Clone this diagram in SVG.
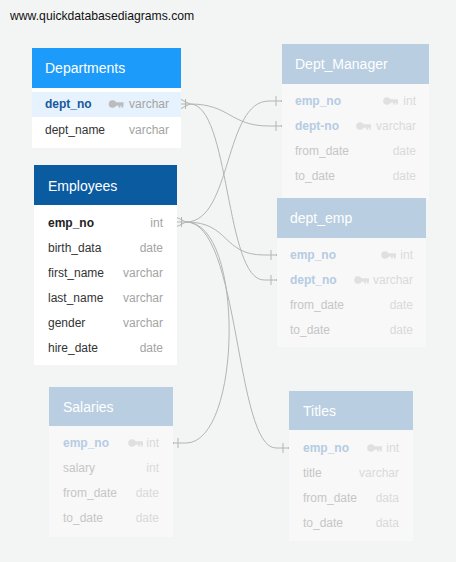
<svg xmlns="http://www.w3.org/2000/svg" width="456" height="562" viewBox="0 0 456 562">
  <style>
    text { font-family: "Liberation Sans", Arial, sans-serif; }
    .site { font-size: 12.2px; fill: #111; }
    .hdr { font-size: 14px; fill: #ffffff; }
    .f { font-size: 12px; }
    .t { font-size: 12px; text-anchor: end; }
    .pk { font-weight: bold; }
    .link { fill: none; stroke: #b4b4b4; stroke-width: 1; }
    .mark { fill: none; stroke: #b4b4b4; stroke-width: 1; }
    .dot { fill: #b4b4b4; }
    /* active tables */
    .on .body { fill: #ffffff; }
    .on .f { fill: #333333; }
    .on .t { fill: #a4a4a4; }
    .on .key { fill: #bcbcbc; }
    /* muted tables */
    .off .hd { fill: #b9cee1; }
    .off .body { fill: #f8f8f8; }
    .off .f { fill: #c6c6c6; }
    .off .f.pk { fill: #b5cce3; }
    .off .t { fill: #dadada; }
    .off .key { fill: #e0e0e0; }
  </style>
  <defs>
    <!-- small primary-key glyph, origin at its left-middle -->
    <g id="key">
      <circle cx="4" cy="0" r="3.8"/>
      <rect x="6" y="-1.7" width="9" height="3.4"/>
      <rect x="10.2" y="1" width="1.7" height="2.6"/>
      <rect x="13" y="1" width="1.7" height="2.6"/>
    </g>
  </defs>

  <rect width="456" height="562" fill="#f3f5f5"/>
  <text class="site" x="10" y="20">www.quickdatabasediagrams.com</text>

  <!-- connectors -->
  <g id="connectors">
    <!-- Departments.dept_no -> Dept_Manager.dept-no -->
    <path class="link" d="M190,104 C230,104 230,126 269,126"/>
    <!-- Departments.dept_no -> dept_emp.dept_no -->
    <path class="link" d="M190,104 C230,104 225,280 264,280"/>
    <!-- Employees.emp_no -> Dept_Manager.emp_no -->
    <path class="link" d="M186,222 C232,222 224,101 269,101"/>
    <!-- Employees.emp_no -> dept_emp.emp_no -->
    <path class="link" d="M186,222 C230,222 222,255 264,255"/>
    <!-- Employees.emp_no -> Titles.emp_no -->
    <path class="link" d="M186,222 C240,222 235,448 276,448"/>
    <!-- Employees.emp_no -> Salaries.emp_no -->
    <path class="link" d="M186,443 C242,443 245,222 186,222"/>

    <!-- many ends -->
    <path class="mark" d="M181,99.5 L190,104 M181,104 L190,104 M181,108.5 L190,104 M185.5,99 L185.5,109"/>
    <path class="mark" d="M177,217.5 L186,222 M177,222 L186,222 M177,226.5 L186,222 M181.5,217 L181.5,227"/>

    <!-- one ends -->
    <path class="mark" d="M269,101 L282,101 M276,96 L276,106"/>
    <circle class="dot" cx="282" cy="101" r="1"/>
    <path class="mark" d="M269,126 L282,126 M276,121 L276,131"/>
    <circle class="dot" cx="282" cy="126" r="1"/>
    <path class="mark" d="M264,255 L277,255 M271,250 L271,260"/>
    <circle class="dot" cx="277" cy="255" r="1"/>
    <path class="mark" d="M264,280 L277,280 M271,275 L271,285"/>
    <circle class="dot" cx="277" cy="280" r="1"/>
    <path class="mark" d="M173,443 L186,443 M178,438 L178,448"/>
    <circle class="dot" cx="173" cy="443" r="1"/>
    <path class="mark" d="M276,448 L289,448 M283,443 L283,453"/>
    <circle class="dot" cx="289" cy="448" r="1"/>
  </g>

  <!-- Departments -->
  <g id="departments" class="on">
    <rect class="body" x="32" y="88" width="149" height="60"/>
    <rect x="32" y="48" width="149" height="40" fill="#1d9bfb"/>
    <rect x="32" y="92" width="149" height="25" fill="#e6f2fd"/>
    <text class="hdr" x="45" y="73">Departments</text>
    <text class="f pk" x="45" y="108" style="fill:#17599b">dept_no</text>
    <use href="#key" class="key" x="108.5" y="104"/>
    <text class="t" x="169" y="108">varchar</text>
    <text class="f" x="45" y="134">dept_name</text>
    <text class="t" x="169" y="134">varchar</text>
  </g>

  <!-- Employees -->
  <g id="employees" class="on">
    <rect class="body" x="34" y="205" width="143" height="160"/>
    <rect x="34" y="165" width="143" height="40" fill="#0b5ba1"/>
    <text class="hdr" x="48" y="191">Employees</text>
    <text class="f pk" x="48" y="227" style="fill:#222">emp_no</text>
    <text class="t" x="163" y="227">int</text>
    <text class="f" x="48" y="252">birth_data</text>
    <text class="t" x="163" y="252">date</text>
    <text class="f" x="48" y="277">first_name</text>
    <text class="t" x="163" y="277">varchar</text>
    <text class="f" x="48" y="302">last_name</text>
    <text class="t" x="163" y="302">varchar</text>
    <text class="f" x="48" y="327">gender</text>
    <text class="t" x="163" y="327">varchar</text>
    <text class="f" x="48" y="352">hire_date</text>
    <text class="t" x="163" y="352">date</text>
  </g>

  <!-- Dept_Manager -->
  <g id="dept_manager" class="off">
    <rect class="body" x="282" y="84" width="147" height="116"/>
    <rect class="hd" x="282" y="44" width="147" height="40"/>
    <text class="hdr" x="295" y="69">Dept_Manager</text>
    <text class="f pk" x="295" y="105">emp_no</text>
    <use href="#key" class="key" x="383" y="101"/>
    <text class="t" x="416" y="105">int</text>
    <text class="f pk" x="295" y="130">dept-no</text>
    <use href="#key" class="key" x="356" y="126"/>
    <text class="t" x="416" y="130">varchar</text>
    <text class="f" x="295" y="155">from_date</text>
    <text class="t" x="416" y="155">date</text>
    <text class="f" x="295" y="180">to_date</text>
    <text class="t" x="416" y="180">date</text>
  </g>

  <!-- dept_emp -->
  <g id="dept_emp" class="off">
    <rect class="body" x="277" y="238" width="149" height="109"/>
    <rect class="hd" x="277" y="198" width="149" height="40"/>
    <text class="hdr" x="290" y="223">dept_emp</text>
    <text class="f pk" x="290" y="259">emp_no</text>
    <use href="#key" class="key" x="381" y="255"/>
    <text class="t" x="413" y="259">int</text>
    <text class="f pk" x="290" y="284">dept_no</text>
    <use href="#key" class="key" x="354" y="280"/>
    <text class="t" x="413" y="284">varchar</text>
    <text class="f" x="290" y="309">from_date</text>
    <text class="t" x="413" y="309">date</text>
    <text class="f" x="290" y="334">to_date</text>
    <text class="t" x="413" y="334">date</text>
  </g>

  <!-- Salaries -->
  <g id="salaries" class="off">
    <rect class="body" x="49" y="426" width="124" height="111"/>
    <rect class="hd" x="49" y="387" width="124" height="39"/>
    <text class="hdr" x="63" y="412">Salaries</text>
    <text class="f pk" x="63" y="447">emp_no</text>
    <use href="#key" class="key" x="128" y="443"/>
    <text class="t" x="159" y="447">int</text>
    <text class="f" x="63" y="472">salary</text>
    <text class="t" x="159" y="472">int</text>
    <text class="f" x="63" y="497">from_date</text>
    <text class="t" x="159" y="497">date</text>
    <text class="f" x="63" y="522">to_date</text>
    <text class="t" x="159" y="522">date</text>
  </g>

  <!-- Titles -->
  <g id="titles" class="off">
    <rect class="body" x="289" y="430" width="124" height="111"/>
    <rect class="hd" x="289" y="391" width="124" height="39"/>
    <text class="hdr" x="303" y="416">Titles</text>
    <text class="f pk" x="303" y="452">emp_no</text>
    <use href="#key" class="key" x="367" y="448"/>
    <text class="t" x="399" y="452">int</text>
    <text class="f" x="303" y="477">title</text>
    <text class="t" x="399" y="477">varchar</text>
    <text class="f" x="303" y="502">from_date</text>
    <text class="t" x="399" y="502">data</text>
    <text class="f" x="303" y="527">to_date</text>
    <text class="t" x="399" y="527">data</text>
  </g>
</svg>
